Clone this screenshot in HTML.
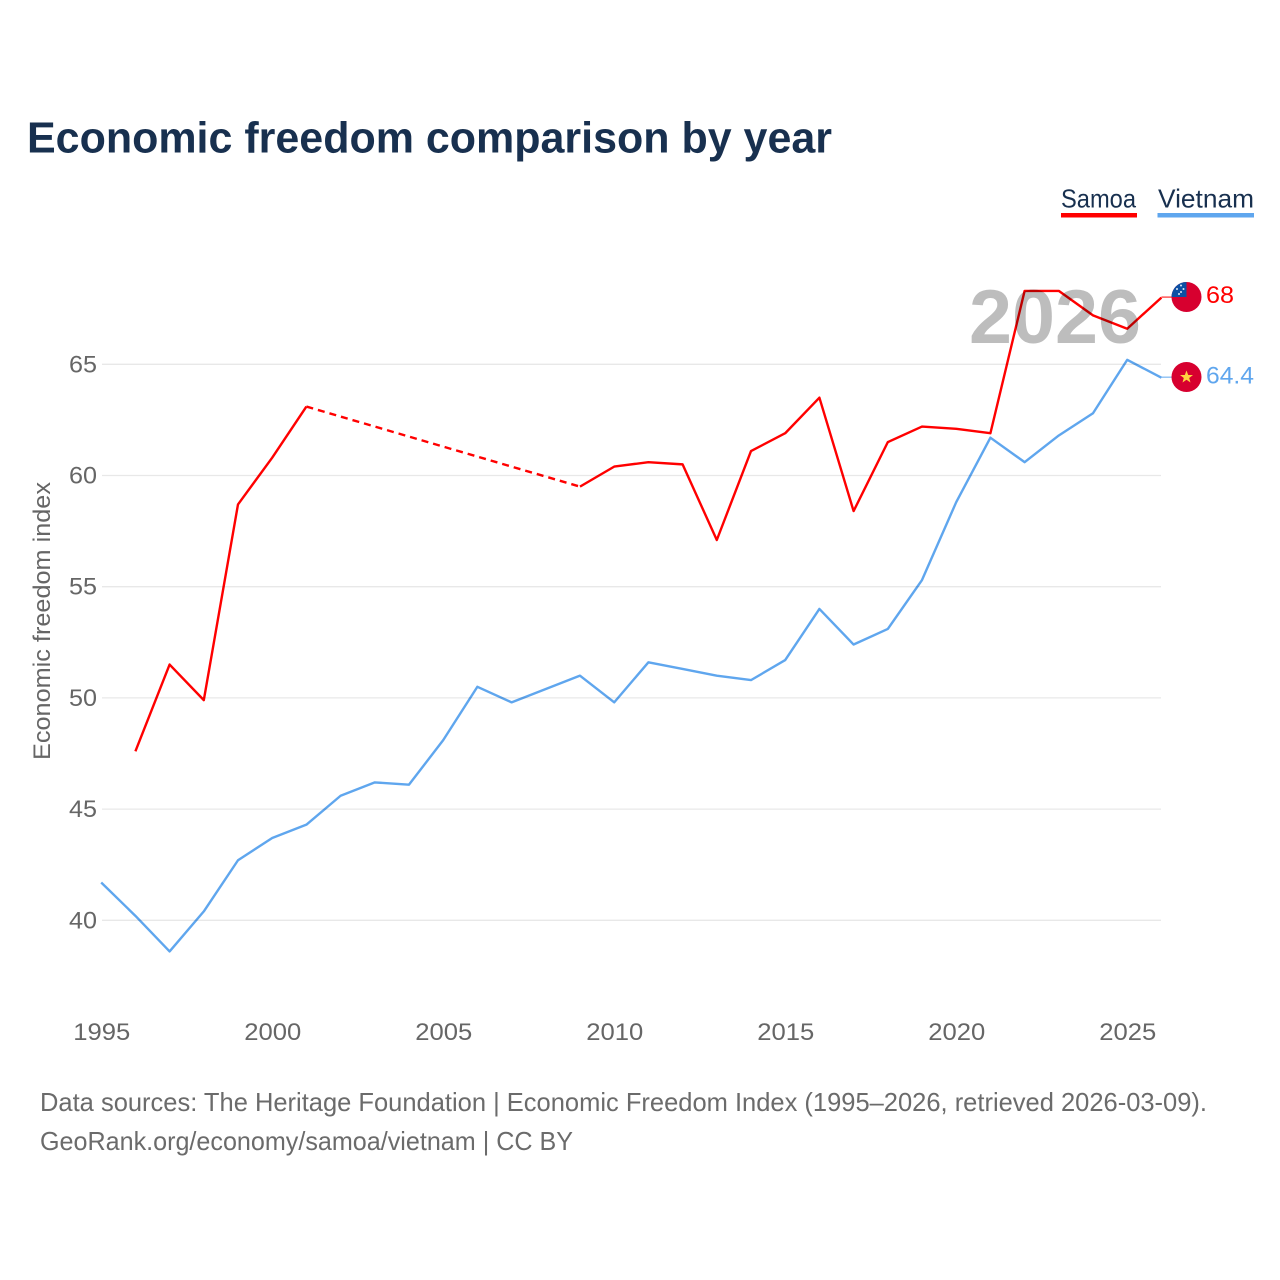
<!DOCTYPE html>
<html>
<head>
<meta charset="utf-8">
<title>Economic freedom comparison by year</title>
<style>
html,body{margin:0;padding:0;background:#fff;}
svg{display:block;font-family:"Liberation Sans",sans-serif;}
.series{fill:none;stroke-width:2.4;stroke-linejoin:round;mix-blend-mode:multiply;}
</style>
</head>
<body>
<svg id="chart" width="1280" height="1280" viewBox="0 0 1280 1280" xmlns="http://www.w3.org/2000/svg">
<rect width="1280" height="1280" fill="#fff"/>
<text x="27" y="152.5" font-size="44" font-weight="bold" fill="#18304f" textLength="805" lengthAdjust="spacingAndGlyphs">Economic freedom comparison by year</text>

<g>
<text x="1061" y="207.5" font-size="26" fill="#18304f" textLength="75" lengthAdjust="spacingAndGlyphs">Samoa</text>
<rect x="1061" y="213" width="76" height="4.5" fill="#ff0000"/>
</g>
<g>
<text x="1158" y="207.5" font-size="26" fill="#18304f" textLength="96" lengthAdjust="spacingAndGlyphs">Vietnam</text>
<rect x="1157.5" y="213" width="96.5" height="4.5" fill="#5fa6ee"/>
</g>

<g id="grid"></g>
<g id="yticks"></g>
<g id="xticks"></g>
<text transform="translate(50,621) rotate(-90)" text-anchor="middle" font-size="24" fill="#666" textLength="278" lengthAdjust="spacingAndGlyphs">Economic freedom index</text>

<text x="969" y="343" font-size="76" font-weight="bold" fill="#bdbdbd" textLength="172" lengthAdjust="spacingAndGlyphs">2026</text>
<g id="lines"></g>
<g id="endlabels"></g>

<defs>
<clipPath id="samoa-clip"><circle cx="1186.5" cy="297" r="15"/></clipPath>
</defs>
<g clip-path="url(#samoa-clip)">
<rect x="1171" y="281" width="31" height="32" fill="#d7002f"/>
<rect x="1171" y="281" width="15.5" height="16" fill="#0c50a4"/>
<circle cx="1181" cy="285.5" r="1" fill="#dfe8f5"/>
<circle cx="1177" cy="289" r="1" fill="#dfe8f5"/>
<circle cx="1183.5" cy="289" r="1" fill="#dfe8f5"/>
<circle cx="1181" cy="292" r="1" fill="#dfe8f5"/>
<circle cx="1179" cy="294" r="1" fill="#dfe8f5"/>
</g>
<g>
<circle cx="1186.5" cy="377" r="15" fill="#d7002f"/>
<polygon points="1186.5,370.5 1188.2,375 1193,375 1189.2,378 1190.5,382.5 1186.5,379.8 1182.5,382.5 1183.8,378 1180,375 1184.8,375" fill="#ffd440"/>
</g>

<text x="40" y="1111" font-size="26" fill="#6b6b6b" textLength="1167" lengthAdjust="spacingAndGlyphs">Data sources: The Heritage Foundation | Economic Freedom Index (1995–2026, retrieved 2026-03-09).</text>
<text x="40" y="1150" font-size="26" fill="#6b6b6b" textLength="533" lengthAdjust="spacingAndGlyphs">GeoRank.org/economy/samoa/vietnam | CC BY</text>
</svg>
<script>
const years = [1995,1996,1997,1998,1999,2000,2001,2002,2003,2004,2005,2006,2007,2008,2009,2010,2011,2012,2013,2014,2015,2016,2017,2018,2019,2020,2021,2022,2023,2024,2025,2026];
const samoaValues = [null,47.6,51.5,49.9,58.7,60.8,63.1,null,null,null,null,null,null,null,59.5,60.4,60.6,60.5,57.1,61.1,61.9,63.5,58.4,61.5,62.2,62.1,61.9,68.3,68.3,67.2,66.6,68];
const vietnamValues = [41.7,40.2,38.6,40.4,42.7,43.7,44.3,45.6,46.2,46.1,48.1,50.5,49.8,50.4,51.0,49.8,51.6,51.3,51.0,50.8,51.7,54.0,52.4,53.1,55.3,58.8,61.7,60.6,61.8,62.8,65.2,64.4];
const yTickLabels = [40,45,50,55,60,65];
const xTickLabels = [1995,2000,2005,2010,2015,2020,2025];
const samoaLabel = "68";
const vietnamLabel = "64.4";

const NS = "http://www.w3.org/2000/svg";
const xScale = function (year) { return 101.2 + (year - 1995) * (1026 / 30); };
const yScale = function (value) { return 920.3 - (value - 40) * (556 / 25); };

const gridGroup = document.getElementById("grid");
const yTickGroup = document.getElementById("yticks");
const xTickGroup = document.getElementById("xticks");
const lineGroup = document.getElementById("lines");
const endGroup = document.getElementById("endlabels");

yTickLabels.forEach(function (tick) {
  const line = document.createElementNS(NS, "line");
  
  
  line.setAttribute("x1", 102);
  line.setAttribute("x2", 1161);
  line.setAttribute("y1", yScale(tick));
  line.setAttribute("y2", yScale(tick));
  line.setAttribute("stroke", "#e8e8e8");
  line.setAttribute("stroke-width", "1.3");
  gridGroup.appendChild(line);

  const label = document.createElementNS(NS, "text");
  
  
  label.setAttribute("x", 97);
  label.setAttribute("y", yScale(tick) + 8);
  label.setAttribute("text-anchor", "end");
  label.setAttribute("font-size", "24");
  label.setAttribute("fill", "#666");
  label.setAttribute("textLength", "28");
  label.setAttribute("lengthAdjust", "spacingAndGlyphs");
  label.textContent = tick;
  yTickGroup.appendChild(label);
});

xTickLabels.forEach(function (tick) {
  const label = document.createElementNS(NS, "text");
  
  
  label.setAttribute("x", xScale(tick) + 0.6);
  label.setAttribute("y", 1040);
  label.setAttribute("text-anchor", "middle");
  label.setAttribute("font-size", "24");
  label.setAttribute("fill", "#666");
  label.setAttribute("textLength", "57");
  label.setAttribute("lengthAdjust", "spacingAndGlyphs");
  label.textContent = tick;
  xTickGroup.appendChild(label);
});

function drawSeries(values, color, name) {
  let solid = "";
  let dashed = "";
  let prevIndex = -1;
  values.forEach(function (value, i) {
    if (value === null) { return; }
    const px = xScale(years[i]).toFixed(2) + " " + yScale(value).toFixed(2);
    if (prevIndex >= 0 && i - prevIndex > 1) {
      dashed += "M" + xScale(years[prevIndex]).toFixed(2) + " " + yScale(values[prevIndex]).toFixed(2) + "L" + px;
      solid += "M" + px;
    } else if (prevIndex < 0) {
      solid += "M" + px;
    } else {
      solid += "L" + px;
    }
    prevIndex = i;
  });
  const solidPath = document.createElementNS(NS, "path");
  
  
  solidPath.setAttribute("class", "series");
  solidPath.setAttribute("d", solid);
  solidPath.setAttribute("stroke", color);
  lineGroup.appendChild(solidPath);
  if (dashed) {
    const dashPath = document.createElementNS(NS, "path");
    
    
    dashPath.setAttribute("class", "series");
    dashPath.setAttribute("d", dashed);
    dashPath.setAttribute("stroke", color);
    dashPath.setAttribute("stroke-dasharray", "7 5");
    lineGroup.appendChild(dashPath);
  }
  const lastIndex = values.length - 1;
  const endX = xScale(years[lastIndex]);
  const endY = yScale(values[lastIndex]) - 0.5;
  const connector = document.createElementNS(NS, "line");
  
  
  connector.setAttribute("x1", endX);
  connector.setAttribute("x2", endX + 11);
  connector.setAttribute("y1", endY);
  connector.setAttribute("y2", endY);
  connector.setAttribute("stroke", color);
  connector.setAttribute("stroke-width", "1");
  endGroup.appendChild(connector);
}

drawSeries(samoaValues, "#ff0000", "samoa");
drawSeries(vietnamValues, "#5fa6ee", "vietnam");

const samoaEnd = document.createElementNS(NS, "text");


samoaEnd.setAttribute("x", 1206);
samoaEnd.setAttribute("y", yScale(samoaValues[samoaValues.length - 1]) + 5.5);
samoaEnd.setAttribute("font-size", "24");
samoaEnd.setAttribute("fill", "#ff0000");
samoaEnd.setAttribute("textLength", "28");
samoaEnd.setAttribute("lengthAdjust", "spacingAndGlyphs");
samoaEnd.textContent = samoaLabel;
endGroup.appendChild(samoaEnd);

const vietnamEnd = document.createElementNS(NS, "text");


vietnamEnd.setAttribute("x", 1206);
vietnamEnd.setAttribute("y", yScale(vietnamValues[vietnamValues.length - 1]) + 6);
vietnamEnd.setAttribute("font-size", "24");
vietnamEnd.setAttribute("fill", "#5fa6ee");
vietnamEnd.setAttribute("textLength", "48");
vietnamEnd.setAttribute("lengthAdjust", "spacingAndGlyphs");
vietnamEnd.textContent = vietnamLabel;
endGroup.appendChild(vietnamEnd);
</script>
</body>
</html>
